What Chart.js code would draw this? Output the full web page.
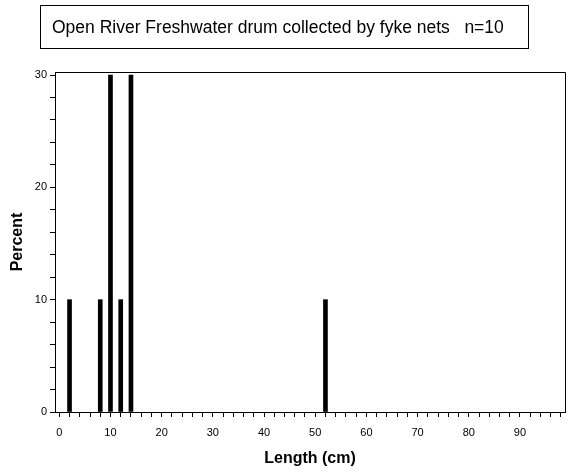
<!DOCTYPE html>
<html>
<head>
<meta charset="utf-8">
<script src="https://cdn.jsdelivr.net/npm/chart.js@4/dist/chart.umd.min.js"></script>
<style>
  html, body { margin: 0; padding: 0; background: #fff; }
</style>
</head>
<body>
<canvas id="lengthChart" width="570" height="475"></canvas>
<script>
// length midpoints (cm) and percent of fish in each bin
const lengths = [2, 8, 10, 12, 14, 52];
const percents = [10, 10, 30, 10, 30, 10];
const xLabelTicks = [0, 10, 20, 30, 40, 50, 60, 70, 80, 90];
const yLabelTicks = [0, 10, 20, 30];
const titleText = "Open River Freshwater drum collected by fyke nets   n=10";

const FONT = "'Liberation Sans', Arial, sans-serif";

// title box and the top/right edges of the frame
const frameAndTitle = {
  id: "frameAndTitle",
  afterDraw(chart) {
    const ctx = chart.ctx;
    const a = chart.chartArea;
    ctx.save();
    ctx.strokeStyle = "#000";
    ctx.lineWidth = 1;
    ctx.beginPath();
    ctx.moveTo(Math.round(a.left), Math.round(a.top) + 0.5);
    ctx.lineTo(Math.round(a.right) + 0.5, Math.round(a.top) + 0.5);
    ctx.lineTo(Math.round(a.right) + 0.5, Math.round(a.bottom));
    ctx.stroke();

    ctx.strokeRect(40.5, 5.5, 488, 43);
    ctx.fillStyle = "#000";
    ctx.font = "17.5px " + FONT;
    ctx.textAlign = "left";
    ctx.textBaseline = "middle";
    ctx.fillText(titleText, 52, 28);
    ctx.restore();
  }
};

const ctx = document.getElementById("lengthChart").getContext("2d");
new Chart(ctx, {
  type: "bar",
  data: {
    datasets: [{
      data: lengths.map((len, i) => ({ x: len, y: percents[i] })),
      backgroundColor: "#000",
      borderWidth: 0,
      barThickness: 4
    }]
  },
  options: {
    responsive: false,
    animation: false,
    layout: { padding: { top: 72, right: 5, bottom: 0, left: 0 } },
    plugins: {
      legend: { display: false },
      tooltip: { enabled: false },
      title: { display: false }
    },
    scales: {
      x: {
        type: "linear",
        min: -0.84,
        max: 98.8,
        offset: false,
        ticks: {
          stepSize: 2,
          includeBounds: false,
          autoSkip: false,
          maxRotation: 0,
          padding: 9,
          color: "#000",
          font: { family: FONT, size: 11 },
          callback: v => xLabelTicks.includes(v) ? String(v) : ""
        },
        grid: { offset: false, drawOnChartArea: false, drawTicks: true, tickLength: 5, color: "#000" },
        border: { color: "#000", width: 1 },
        title: {
          display: true,
          text: "Length (cm)",
          color: "#000",
          font: { family: FONT, size: 16, weight: "bold" },
          padding: { top: 0, bottom: 7 }
        },
        afterFit(scale) { scale.height = 63; }
      },
      y: {
        min: 0,
        max: 30.27,
        ticks: {
          stepSize: 2,
          includeBounds: false,
          autoSkip: false,
          padding: 3,
          color: "#000",
          font: { family: FONT, size: 11 },
          callback: v => yLabelTicks.includes(v) ? String(v) : ""
        },
        grid: { drawOnChartArea: false, drawTicks: true, tickLength: 5, color: "#000" },
        border: { color: "#000", width: 1 },
        title: {
          display: true,
          text: "Percent",
          color: "#000",
          font: { family: FONT, size: 16, weight: "bold" },
          padding: { top: 8, bottom: 0 }
        },
        afterFit(scale) { scale.width = 55; }
      }
    }
  },
  plugins: [frameAndTitle]
});
</script>
</body>
</html>
